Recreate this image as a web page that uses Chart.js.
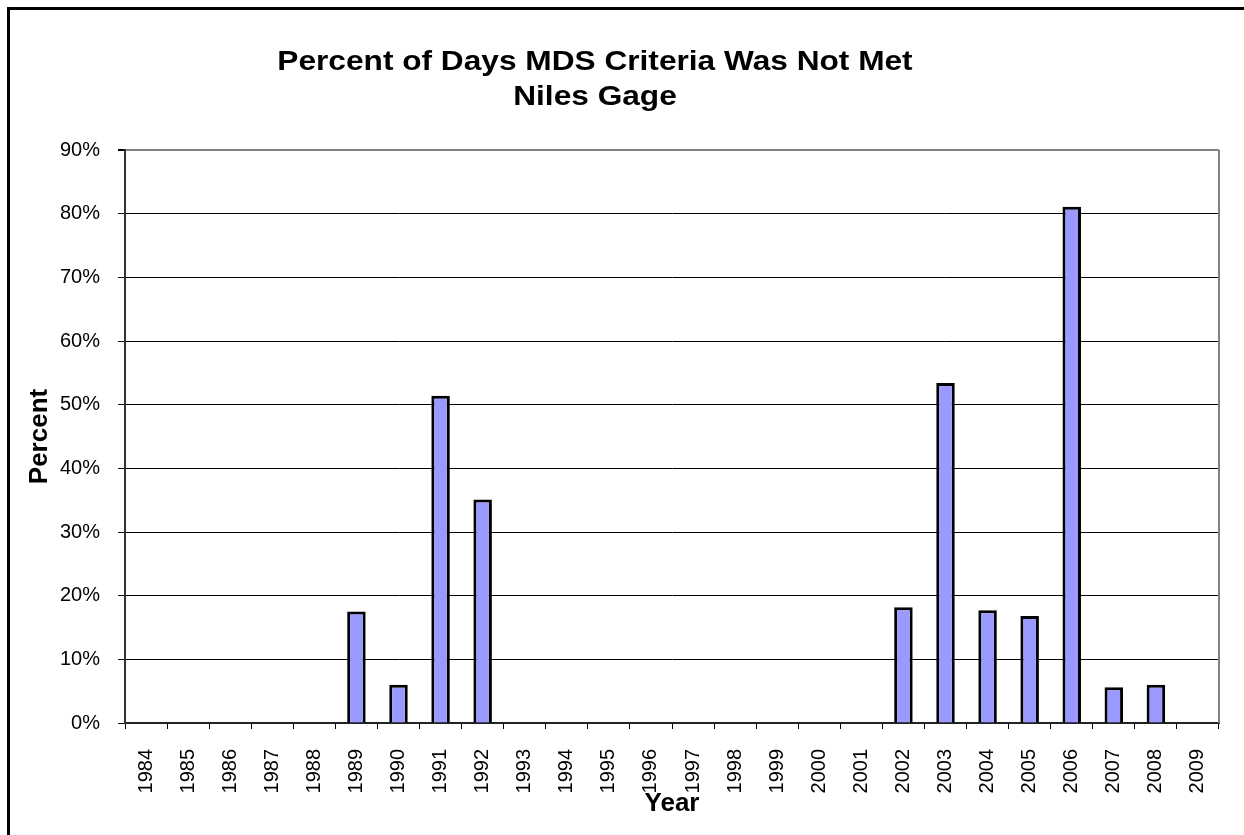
<!DOCTYPE html>
<html>
<head>
<meta charset="utf-8">
<title>Percent of Days MDS Criteria Was Not Met</title>
<script src="https://cdn.jsdelivr.net/npm/chart.js@4.4.1/dist/chart.umd.min.js"></script>
<style>
  html, body { margin: 0; padding: 0; background: #fff; }
  #wrap { width: 1244px; height: 835px; }
</style>
</head>
<body>
<div id="wrap"><canvas id="mdsChart" width="1244" height="835"></canvas></div>
<script>
const titleLines = ['Percent of Days MDS Criteria Was Not Met', 'Niles Gage'];
const years = ['1984', '1985', '1986', '1987', '1988', '1989', '1990', '1991', '1992',
  '1993', '1994', '1995', '1996', '1997', '1998', '1999', '2000', '2001', '2002',
  '2003', '2004', '2005', '2006', '2007', '2008', '2009'];
const percentNotMet = [0, 0, 0, 0, 0, 17.5, 6.0, 51.4, 35.1,
  0, 0, 0, 0, 0, 0, 0, 0, 0, 18.2,
  53.4, 17.7, 16.8, 81.1, 5.6, 6.0, 0];
const yTickValues = [0, 10, 20, 30, 40, 50, 60, 70, 80, 90];

const FONT = "'Liberation Sans', Arial, sans-serif";
Chart.defaults.font.family = FONT;
Chart.defaults.color = '#000';

// outer frame, plot-area border on the right, and the (slightly wide) title
const excelFrame = {
  id: 'excelFrame',
  beforeDraw(chart) {
    const ctx = chart.ctx;
    ctx.save();
    ctx.fillStyle = '#fff';
    ctx.fillRect(0, 0, chart.width, chart.height);
    ctx.fillStyle = '#000';
    ctx.fillRect(7, 7, 3, chart.height - 7);
    ctx.fillRect(7, 7, chart.width - 7, 3);
    ctx.restore();
  },
  beforeDatasetsDraw(chart) {
    const { ctx, chartArea } = chart;
    ctx.save();
    ctx.strokeStyle = '#808080';
    ctx.lineWidth = 2;
    ctx.beginPath();
    ctx.moveTo(chartArea.right, chartArea.top);
    ctx.lineTo(chartArea.right, chartArea.bottom);
    ctx.stroke();
    ctx.restore();
  },
  afterDraw(chart) {
    const ctx = chart.ctx;
    ctx.save();
    ctx.fillStyle = '#000';
    ctx.font = 'bold 28px ' + FONT;
    ctx.textAlign = 'center';
    ctx.textBaseline = 'middle';
    titleLines.forEach((line, i) => {
      ctx.save();
      ctx.translate(595, 62 + i * 35);
      ctx.scale(1.13, 1);
      ctx.fillText(line, 0, 0);
      ctx.restore();
    });
    ctx.restore();
  }
};

const ctx = document.getElementById('mdsChart').getContext('2d');
new Chart(ctx, {
  type: 'bar',
  data: {
    labels: years,
    datasets: [{
      label: 'Percent',
      data: percentNotMet,
      backgroundColor: '#9999ff',
      borderColor: '#000',
      borderWidth: 3,
      barPercentage: 0.44,
      categoryPercentage: 1.0
    }]
  },
  options: {
    responsive: false,
    animation: false,
    devicePixelRatio: 1,
    layout: { padding: { left: 10, top: 150, right: 25, bottom: 0 } },
    plugins: {
      legend: { display: false },
      tooltip: { enabled: false }
    },
    scales: {
      x: {
        offset: true,
        afterFit: (scale) => { scale.height = 112; },
        grid: {
          offset: true,
          drawOnChartArea: false,
          drawTicks: true,
          tickLength: 6,
          tickColor: '#000',
          color: '#000'
        },
        border: { color: '#222', width: 2 },
        ticks: {
          font: { size: 20 },
          maxRotation: 90,
          minRotation: 90,
          padding: 20,
          autoSkip: false
        },
        title: {
          display: true,
          text: 'Year',
          font: { size: 26, weight: 'bold' },
          padding: { top: 0, bottom: 16 }
        }
      },
      y: {
        min: 0,
        max: 90,
        afterFit: (scale) => { scale.width = 115; },
        afterBuildTicks: (scale) => { scale.ticks = yTickValues.map((v) => ({ value: v })); },
        grid: {
          color: (c) => (c.tick && c.tick.value === 90 ? '#808080' : '#000'),
          lineWidth: (c) => (c.tick && c.tick.value === 90 ? 2 : 1),
          tickLength: 7,
          tickColor: '#000'
        },
        border: { color: '#333', width: 2 },
        ticks: {
          font: { size: 20 },
          padding: 18,
          callback: (v) => v + '%'
        },
        title: {
          display: true,
          text: 'Percent',
          font: { size: 26, weight: 'bold' },
          padding: { top: 14, bottom: 0 }
        }
      }
    }
  },
  plugins: [excelFrame]
});
</script>
</body>
</html>
